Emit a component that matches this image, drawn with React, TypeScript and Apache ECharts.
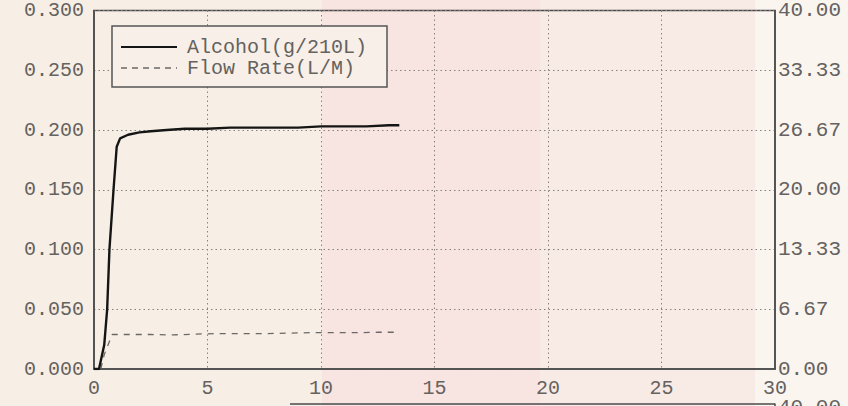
import React, { useEffect, useRef } from "react";
import * as echarts from "echarts";

const alcoholTime = [0, 0.22, 0.45, 0.58, 0.68, 0.86, 1.0, 1.15, 1.5, 2.0, 2.5, 3.2, 4.0, 5.0, 6.0, 7.0, 8.0, 9.0, 10.0, 11.0, 12.0, 13.0, 13.45];
const alcoholValue = [0, 0, 0.02, 0.05, 0.1, 0.15, 0.186, 0.193, 0.196, 0.198, 0.199, 0.2, 0.201, 0.201, 0.202, 0.202, 0.202, 0.202, 0.203, 0.203, 0.203, 0.204, 0.204];

const flowTime = [0.3, 0.45, 0.8, 1.5, 2.5, 3.5, 4.5, 5.5, 6.5, 7.5, 8.5, 9.5, 10.5, 11.5, 12.5, 13.35];
const flowValue = [0, 1.6, 3.85, 3.85, 3.85, 3.8, 3.9, 3.95, 3.95, 3.95, 4.0, 4.05, 4.05, 4.05, 4.1, 4.1];

const xTicks = { min: 0, max: 30, interval: 5 };
const leftTicks = { min: 0, max: 0.3, interval: 0.05 };
const rightTicks = { min: 0, max: 40, interval: 40 / 6 };
const seriesNames = ["Alcohol(g/210L)", "Flow Rate(L/M)"];

const FONT = "Liberation Mono";
const TEXT = "#65625f";
const AXIS = "#4a4a4a";
const ALC = "#151515";
const FLOW = "#6a6866";

export default function App() {
  const ref = useRef<HTMLDivElement>(null);
  useEffect(() => {
    const chart = echarts.init(ref.current!, null, { renderer: "svg" });
    chart.setOption({
      animation: false,
      backgroundColor: "#f7efe6",
      graphic: [
        { type: "rect", z: -10, shape: { x: 322, y: 0, width: 218, height: 406 }, style: { fill: "#f8e5e2" } },
        { type: "rect", z: -10, shape: { x: 540, y: 0, width: 215, height: 406 }, style: { fill: "#f8ebe6" } },
        { type: "rect", z: -10, shape: { x: 755, y: 0, width: 93, height: 406 }, style: { fill: "#fbf5f0" } },
        { type: "line", shape: { x1: 290, y1: 404, x2: 775, y2: 404 }, style: { stroke: AXIS, lineWidth: 1.5 } },
        { type: "line", shape: { x1: 775, y1: 403.5, x2: 775, y2: 406 }, style: { stroke: AXIS, lineWidth: 1.5 } },
        { type: "text", x: 778, y: 397, style: { text: "40.00", fill: TEXT, font: `21px "${FONT}"` } },
        { type: "rect", z: 100, shape: { x: 112, y: 26, width: 275, height: 61 }, style: { fill: "#f8f0e8", stroke: "#555", lineWidth: 1.5 } },
        { type: "line", z: 101, shape: { x1: 121, y1: 47, x2: 177, y2: 47 }, style: { stroke: ALC, lineWidth: 2 } },
        { type: "line", z: 101, shape: { x1: 121, y1: 68, x2: 177, y2: 68 }, style: { stroke: FLOW, lineWidth: 1.3, lineDash: [6, 5] } },
        { type: "text", z: 101, x: 187, y: 47, style: { text: seriesNames[0], fill: TEXT, font: `20px "${FONT}"`, verticalAlign: "middle" } },
        { type: "text", z: 101, x: 187, y: 68, style: { text: seriesNames[1], fill: TEXT, font: `20px "${FONT}"`, verticalAlign: "middle" } },
      ],
      grid: {
        left: 94,
        right: 73,
        top: 8,
        bottom: 37,
        show: true,
        borderColor: AXIS,
        borderWidth: 1.5,
        backgroundColor: "transparent",
      },
      xAxis: {
        type: "value",
        min: xTicks.min,
        max: xTicks.max,
        interval: xTicks.interval,
        axisLine: { show: true, lineStyle: { color: AXIS, width: 1.5 } },
        axisTick: { show: false },
        axisLabel: { fontFamily: FONT, fontSize: 20, color: TEXT, margin: 9 },
        splitLine: { show: true, lineStyle: { color: "#85827f", type: [1.5, 3], width: 1 } },
      },
      yAxis: [
        {
          type: "value",
          position: "left",
          min: leftTicks.min,
          max: leftTicks.max,
          interval: leftTicks.interval,
          axisLine: { show: true, lineStyle: { color: AXIS, width: 1.5 } },
          axisTick: { show: false },
          axisLabel: {
            fontFamily: FONT,
            fontSize: 20,
            color: TEXT,
            margin: 10,
            formatter: (v: number) => v.toFixed(3),
          },
          splitLine: { show: true, lineStyle: { color: "#85827f", type: [1.5, 3], width: 1 } },
        },
        {
          type: "value",
          position: "right",
          min: rightTicks.min,
          max: rightTicks.max,
          interval: rightTicks.interval,
          axisLine: { show: true, lineStyle: { color: AXIS, width: 1.5 } },
          axisTick: { show: false },
          axisLabel: {
            fontFamily: FONT,
            fontSize: 21,
            color: TEXT,
            margin: 3,
            formatter: (v: number) => v.toFixed(2),
          },
          splitLine: { show: false },
        },
      ],
      series: [
        {
          name: seriesNames[0],
          type: "line",
          yAxisIndex: 0,
          symbol: "none",
          lineStyle: { color: ALC, width: 2.4 },
          itemStyle: { color: ALC },
          data: alcoholTime.map((t, i) => [t, alcoholValue[i]]),
          z: 5,
        },
        {
          name: seriesNames[1],
          type: "line",
          yAxisIndex: 1,
          symbol: "none",
          lineStyle: { color: FLOW, width: 1.3, type: [6, 6] },
          itemStyle: { color: FLOW },
          data: flowTime.map((t, i) => [t, flowValue[i]]),
          z: 4,
        },
      ],
    });
    return () => chart.dispose();
  }, []);
  return (
    <div
      ref={ref}
      style={{ position: "absolute", left: 0, top: 0, width: 848, height: 406 }}
    />
  );
}
